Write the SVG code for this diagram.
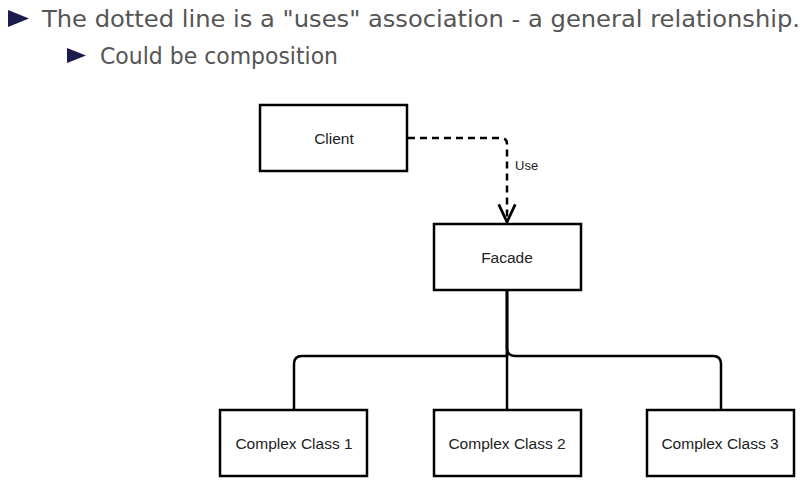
<svg xmlns="http://www.w3.org/2000/svg" width="809" height="493" viewBox="0 0 809 493">
<style>
.box{fill:#fff;stroke:#000;stroke-width:2.5}
.lbl{font-family:"Liberation Sans",Arial,sans-serif;font-size:15.5px;fill:#222;text-anchor:middle}
.edge{fill:none;stroke:#000;stroke-width:2.5}
.head{font-family:"DejaVu Sans Condensed","DejaVu Sans",sans-serif;fill:#555}
.bul{fill:#1c1c4c}
</style>
<defs>
<marker id="open" viewBox="0 0 20 20" refX="18" refY="10" markerWidth="22" markerHeight="22" markerUnits="userSpaceOnUse" orient="auto-start-reverse">
<path d="M2 2.5 L18 10 L2 17.5" fill="none" stroke="#000" stroke-width="2.5"/>
</marker>
</defs>
<rect width="809" height="493" fill="#fff"/>
<g id="header">
<path class="bul" d="M8 10 L29 18.5 L8 27 Z"/>
<text class="head" x="42" y="27" font-size="23" textLength="758" lengthAdjust="spacingAndGlyphs">The dotted line is a "uses" association - a general relationship.</text>
<path class="bul" d="M67 48 L86 55.5 L67 63 Z"/>
<text class="head" x="100" y="64" font-size="23" textLength="238" lengthAdjust="spacingAndGlyphs">Could be composition</text>
</g>
<g id="connectors">
<path class="edge" d="M408 138 H501 Q507 138 507 144 V222" stroke-dasharray="7 5" marker-end="url(#open)"/>
<path class="edge" d="M507 291 V410"/>
<path class="edge" d="M507 291 V356 H302 Q294 356 294 364 V410"/>
<path class="edge" d="M507 291 V348 Q507 356 515 356 H713 Q721 356 721 364 V410"/>
<text x="515" y="170" font-family="Liberation Sans,Arial,sans-serif" font-size="13" fill="#222">Use</text>
</g>
<g id="client"><rect class="box" x="260" y="105" width="147" height="66"/><text class="lbl" x="334" y="144">Client</text></g>
<g id="facade"><rect class="box" x="434" y="224" width="147" height="66"/><text class="lbl" x="507" y="263">Facade</text></g>
<g id="cc1"><rect class="box" x="220" y="410" width="147" height="66"/><text class="lbl" x="294" y="449">Complex Class 1</text></g>
<g id="cc2"><rect class="box" x="434" y="410" width="147" height="66"/><text class="lbl" x="507" y="449">Complex Class 2</text></g>
<g id="cc3"><rect class="box" x="647" y="410" width="147" height="66"/><text class="lbl" x="720" y="449">Complex Class 3</text></g>
</svg>
